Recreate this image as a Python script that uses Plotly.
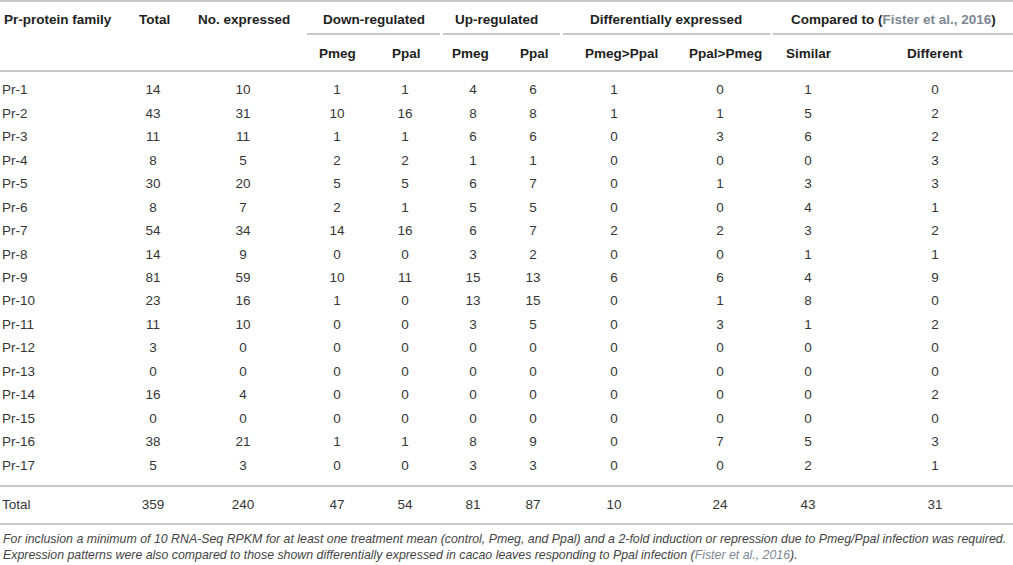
import plotly.graph_objects as go

# table values
families = ["Pr-1", "Pr-2", "Pr-3", "Pr-4", "Pr-5", "Pr-6", "Pr-7", "Pr-8", "Pr-9",
            "Pr-10", "Pr-11", "Pr-12", "Pr-13", "Pr-14", "Pr-15", "Pr-16", "Pr-17"]
total = [14, 43, 11, 8, 30, 8, 54, 14, 81, 23, 11, 3, 0, 16, 0, 38, 5]
expressed = [10, 31, 11, 5, 20, 7, 34, 9, 59, 16, 10, 0, 0, 4, 0, 21, 3]
down_pmeg = [1, 10, 1, 2, 5, 2, 14, 0, 10, 1, 0, 0, 0, 0, 0, 1, 0]
down_ppal = [1, 16, 1, 2, 5, 1, 16, 0, 11, 0, 0, 0, 0, 0, 0, 1, 0]
up_pmeg = [4, 8, 6, 1, 6, 5, 6, 3, 15, 13, 3, 0, 0, 0, 0, 8, 3]
up_ppal = [6, 8, 6, 1, 7, 5, 7, 2, 13, 15, 5, 0, 0, 0, 0, 9, 3]
pmeg_gt_ppal = [1, 1, 0, 0, 0, 0, 2, 0, 6, 0, 0, 0, 0, 0, 0, 0, 0]
ppal_gt_pmeg = [0, 1, 3, 0, 1, 0, 2, 0, 6, 1, 3, 0, 0, 0, 0, 7, 0]
similar = [1, 5, 6, 0, 3, 4, 3, 1, 4, 8, 1, 0, 0, 0, 0, 5, 2]
different = [0, 2, 2, 3, 3, 1, 2, 1, 9, 0, 2, 0, 0, 2, 0, 3, 1]
totals = [359, 240, 47, 54, 81, 87, 10, 24, 43, 31]

ref = "<span style='color:#7d8892'>Fister et al., 2016</span>"
top_headers = ["Pr-protein family", "Total", "No. expressed", "Down-regulated",
               "Up-regulated", "Differentially expressed",
               "Compared to (" + ref + ")"]
sub_headers = ["Pmeg", "Ppal", "Pmeg", "Ppal", "Pmeg>Ppal", "Ppal>Pmeg", "Similar", "Different"]

footnote_lines = [
    "For inclusion a minimum of 10 RNA-Seq RPKM for at least one treatment mean (control, Pmeg, and Ppal) "
    "and a 2-fold induction or repression due to Pmeg/Ppal infection was required.",
    "Expression patterns were also compared to those shown differentially expressed in cacao leaves "
    "responding to Ppal infection (" + ref + ").",
]

# layout (pixels)
W, H = 1013, 565
col_x = [153, 243, 337, 405, 473, 533, 614, 720, 808, 935]
top_x = [2, 154, 244, 373.5, 496.5, 666, 893.5]
sub_x = [337.5, 406, 470, 534, 621, 725, 809, 935]
row_y0, pitch = 91, 23.45
total_y = 506
foot_y = [539, 555]
line_col = "#c9c9c9"
txt_col = "#363636"
head_col = "#1e1e1e"
FONT = "Liberation Sans, Arial, sans-serif"

columns = [total, expressed, down_pmeg, down_ppal, up_pmeg, up_ppal,
           pmeg_gt_ppal, ppal_gt_pmeg, similar, different]
row_y = [row_y0 + i * pitch for i in range(len(families))]

fig = go.Figure()

fig.add_trace(go.Scatter(x=[2] * len(families) + [2], y=row_y + [total_y],
                         text=families + ["Total"], mode="text",
                         textposition="middle right",
                         textfont=dict(family=FONT, size=13.5, color=txt_col),
                         hoverinfo="skip"))

for cx, vals, tot in zip(col_x, columns, totals):
    fig.add_trace(go.Scatter(x=[cx] * (len(vals) + 1), y=row_y + [total_y],
                             text=[str(v) for v in vals] + [str(tot)], mode="text",
                             textposition="middle center",
                             textfont=dict(family=FONT, size=13.5, color=txt_col),
                             hoverinfo="skip"))

for i, (hx, label) in enumerate(zip(top_x, top_headers)):
    fig.add_annotation(x=hx, y=19, text="<b>" + label + "</b>", showarrow=False,
                       xanchor="left" if i == 0 else "center", yanchor="middle",
                       font=dict(family=FONT, size=13.5, color=head_col))

for hx, label in zip(sub_x, sub_headers):
    fig.add_annotation(x=hx, y=53, text="<b>" + label + "</b>", showarrow=False,
                       xanchor="center", yanchor="middle",
                       font=dict(family=FONT, size=13.5, color=head_col))

for fy, line in zip(foot_y, footnote_lines):
    fig.add_annotation(x=1, y=fy, text="<i>" + line + "</i>", showarrow=False,
                       xanchor="left", yanchor="middle", align="left",
                       font=dict(family=FONT, size=12.35, color="#444444"))

# rules
for y in [1, 71, 486, 524]:
    fig.add_shape(type="line", x0=0, x1=W, y0=y, y1=y,
                  line=dict(color=line_col, width=2))
for x0, x1 in [(307, 440), (443, 560), (563, 770), (773, W)]:
    fig.add_shape(type="line", x0=x0, x1=x1, y0=34, y1=34,
                  line=dict(color=line_col, width=2))

fig.update_xaxes(range=[0, W], visible=False, fixedrange=True)
fig.update_yaxes(range=[H, 0], visible=False, fixedrange=True)
fig.update_layout(width=W, height=H, margin=dict(l=0, r=0, t=0, b=0),
                  plot_bgcolor="white", paper_bgcolor="white", showlegend=False)

# the page body has a default 8px margin; drop it so the table sits at 0,0
fig.write_html("out.html", config={"displayModeBar": False},
               post_script="document.body.style.margin='0';document.body.style.overflow='hidden';")
